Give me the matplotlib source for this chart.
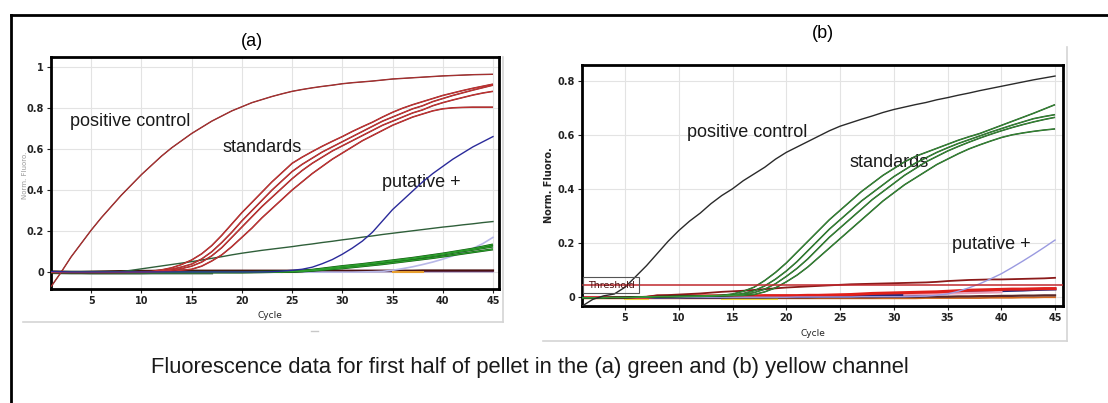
import matplotlib
matplotlib.use("Agg")
import matplotlib.pyplot as plt
from matplotlib import font_manager
from matplotlib.lines import Line2D
from matplotlib.patches import Rectangle

# ---------------------------------------------------------------- data
cycles = list(range(1, 46))

# (a) green channel
a_positive = [-0.07, 0.0, 0.075, 0.14, 0.205, 0.265, 0.32, 0.375, 0.425, 0.475,
              0.52, 0.565, 0.605, 0.64, 0.675, 0.705, 0.735, 0.76, 0.785, 0.805,
              0.825, 0.84, 0.855, 0.868, 0.88, 0.889, 0.897, 0.904, 0.91, 0.917,
              0.922, 0.926, 0.93, 0.935, 0.94, 0.943, 0.946, 0.949, 0.952, 0.955,
              0.957, 0.959, 0.961, 0.962, 0.963]
a_std1 = [0.0, 0.0, 0.0, 0.0, 0.0, 0.0, 0.0, 0.001, 0.002, 0.003,
          0.005, 0.012, 0.022, 0.038, 0.06, 0.09, 0.13, 0.18, 0.235, 0.29,
          0.34, 0.39, 0.44, 0.485, 0.53, 0.56, 0.587, 0.613, 0.637, 0.66,
          0.685, 0.708, 0.73, 0.755, 0.778, 0.798, 0.815, 0.83, 0.845, 0.86,
          0.872, 0.884, 0.895, 0.905, 0.915]
a_std2 = [0.0, 0.0, 0.0, 0.0, 0.0, 0.0, 0.0, 0.0, 0.001, 0.002,
          0.003, 0.008, 0.015, 0.026, 0.04, 0.065, 0.10, 0.145, 0.195, 0.25,
          0.30, 0.35, 0.40, 0.445, 0.49, 0.525, 0.555, 0.585, 0.61, 0.635,
          0.66, 0.685, 0.71, 0.735, 0.755, 0.775, 0.795, 0.81, 0.83, 0.845,
          0.86, 0.873, 0.886, 0.898, 0.91]
a_std3 = [0.0, 0.0, 0.0, 0.0, 0.0, 0.0, 0.0, 0.0, 0.0, 0.001,
          0.002, 0.005, 0.01, 0.018, 0.03, 0.05, 0.08, 0.12, 0.17, 0.22,
          0.27, 0.32, 0.365, 0.41, 0.455, 0.495, 0.53, 0.56, 0.59, 0.615,
          0.64, 0.665, 0.69, 0.715, 0.735, 0.755, 0.775, 0.79, 0.81, 0.825,
          0.838, 0.85, 0.862, 0.872, 0.88]
a_std4 = [0.0, 0.0, 0.0, 0.0, 0.0, 0.0, 0.0, 0.0, 0.0, 0.0,
          0.001, 0.002, 0.005, 0.01, 0.015, 0.03, 0.055, 0.085, 0.125, 0.17,
          0.215, 0.265, 0.31, 0.355, 0.40, 0.44, 0.48, 0.515, 0.55, 0.58,
          0.61, 0.64, 0.665, 0.69, 0.715, 0.735, 0.755, 0.77, 0.785, 0.795,
          0.80, 0.802, 0.803, 0.803, 0.803]
a_putative = [0.004, 0.003, 0.002, 0.002, 0.002, 0.002, 0.002, 0.002, 0.002, 0.002,
              0.002, 0.002, 0.002, 0.002, 0.002, 0.002, 0.002, 0.002, 0.002, 0.002,
              0.002, 0.002, 0.003, 0.006, 0.01, 0.015, 0.025, 0.042, 0.062, 0.088,
              0.118, 0.152, 0.195, 0.25, 0.305, 0.35, 0.395, 0.44, 0.48, 0.515,
              0.55, 0.58, 0.61, 0.635, 0.66]
a_drift = [0.0, -0.003, -0.004, -0.004, -0.003, -0.002, 0.0, 0.004, 0.01, 0.017,
           0.024, 0.031, 0.038, 0.045, 0.052, 0.06, 0.068, 0.076, 0.085, 0.093,
           0.10, 0.107, 0.113, 0.119, 0.125, 0.132, 0.138, 0.145, 0.151, 0.158,
           0.164, 0.171, 0.177, 0.184, 0.19, 0.196, 0.202, 0.208, 0.214, 0.22,
           0.225, 0.231, 0.236, 0.242, 0.247]
a_late1 = [0.002, 0.002, 0.002, 0.002, 0.002, 0.002, 0.002, 0.002, 0.002, 0.002,
           0.002, 0.002, 0.002, 0.002, 0.002, 0.002, 0.002, 0.002, 0.002, 0.002,
           0.002, 0.003, 0.003, 0.004, 0.005, 0.008, 0.012, 0.018, 0.024, 0.03,
           0.035, 0.04, 0.046, 0.052, 0.058, 0.064, 0.07, 0.077, 0.084, 0.091,
           0.099, 0.107, 0.115, 0.125, 0.135]
a_late2 = [0.001, 0.001, 0.001, 0.001, 0.001, 0.001, 0.001, 0.001, 0.001, 0.001,
           0.001, 0.001, 0.001, 0.001, 0.001, 0.001, 0.001, 0.001, 0.001, 0.001,
           0.001, 0.002, 0.002, 0.003, 0.004, 0.006, 0.01, 0.015, 0.02, 0.026,
           0.031, 0.036, 0.042, 0.048, 0.054, 0.06, 0.066, 0.073, 0.08, 0.087,
           0.095, 0.103, 0.11, 0.118, 0.126]
a_late3 = [0.0, 0.0, 0.0, 0.0, 0.0, 0.0, 0.0, 0.0, 0.0, 0.0,
           0.0, 0.0, 0.0, 0.0, 0.0, 0.0, 0.0, 0.0, 0.0, 0.0,
           0.001, 0.001, 0.002, 0.002, 0.003, 0.005, 0.008, 0.012, 0.016, 0.02,
           0.025, 0.03, 0.035, 0.04, 0.046, 0.052, 0.058, 0.064, 0.07, 0.077,
           0.084, 0.091, 0.098, 0.105, 0.112]
a_faint = [0.001, 0.001, 0.001, 0.001, 0.001, 0.001, 0.001, 0.001, 0.001, 0.001,
           0.001, 0.001, 0.001, 0.001, 0.001, 0.001, 0.001, 0.001, 0.001, 0.001,
           0.001, 0.001, 0.001, 0.001, 0.001, 0.001, 0.001, 0.001, 0.001, 0.001,
           0.001, 0.002, 0.003, 0.005, 0.01, 0.018, 0.027, 0.038, 0.05, 0.064,
           0.08, 0.097, 0.116, 0.14, 0.17]
a_neg_maroon = [0.004, 0.003, 0.002, 0.002, 0.003, 0.004, 0.005, 0.006, 0.006, 0.007,
                0.007, 0.008, 0.008, 0.008, 0.008, 0.008, 0.008, 0.008, 0.008, 0.008,
                0.008, 0.008, 0.008, 0.008, 0.008, 0.008, 0.008, 0.008, 0.008, 0.008,
                0.008, 0.008, 0.008, 0.008, 0.008, 0.008, 0.008, 0.009, 0.009, 0.009,
                0.009, 0.009, 0.009, 0.009, 0.009]
a_neg_purple = [0.002, 0.001, 0.0, 0.0, 0.001, 0.002, 0.003, 0.003, 0.004, 0.004,
                0.004, 0.004, 0.004, 0.004, 0.004, 0.004, 0.004, 0.004, 0.004, 0.004,
                0.004, 0.004, 0.004, 0.004, 0.004, 0.004, 0.004, 0.004, 0.004, 0.004,
                0.004, 0.004, 0.004, 0.004, 0.004, 0.004, 0.004, 0.004, 0.004, 0.004,
                0.004, 0.004, 0.004, 0.004, 0.004]
a_neg_grey_cycles = list(range(1, 18))
a_neg_grey = [-0.002, -0.003, -0.004, -0.004, -0.005, -0.005, -0.005, -0.005, -0.005,
              -0.005, -0.004, -0.004, -0.004, -0.004, -0.004, -0.004, -0.004]

# (b) yellow channel
b_positive = [-0.035, -0.01, 0.003, 0.01, 0.035, 0.075, 0.115, 0.16, 0.205, 0.245,
              0.28, 0.31, 0.345, 0.375, 0.40, 0.43, 0.455, 0.48, 0.51, 0.535,
              0.555, 0.575, 0.595, 0.615, 0.632, 0.645, 0.658, 0.67, 0.683, 0.694,
              0.703, 0.712, 0.72, 0.73, 0.738, 0.747, 0.755, 0.764, 0.772, 0.78,
              0.788, 0.796, 0.804, 0.811, 0.818]
b_std1 = [-0.004, -0.004, -0.004, -0.003, -0.003, -0.002, -0.001, 0.0, 0.001, 0.002,
          0.002, 0.003, 0.004, 0.005, 0.01, 0.02, 0.035, 0.06, 0.09, 0.125,
          0.165, 0.205, 0.245, 0.285, 0.32, 0.355, 0.39, 0.42, 0.45, 0.475,
          0.50, 0.52, 0.535, 0.55, 0.565, 0.58, 0.593, 0.605, 0.62, 0.635,
          0.65, 0.665, 0.68, 0.696, 0.712]
b_std2 = [-0.004, -0.004, -0.004, -0.003, -0.003, -0.002, -0.001, 0.0, 0.0, 0.001,
          0.002, 0.002, 0.003, 0.004, 0.006, 0.012, 0.022, 0.04, 0.065, 0.095,
          0.13, 0.17, 0.21, 0.25, 0.285, 0.32, 0.355, 0.385, 0.415, 0.445,
          0.47, 0.495, 0.515, 0.535, 0.552, 0.568, 0.582, 0.596, 0.61, 0.623,
          0.636, 0.648, 0.66, 0.668, 0.675]
b_std3 = [-0.004, -0.004, -0.004, -0.003, -0.003, -0.002, -0.001, 0.0, 0.0, 0.001,
          0.001, 0.002, 0.003, 0.004, 0.005, 0.008, 0.015, 0.028, 0.048, 0.075,
          0.105, 0.14, 0.18, 0.22, 0.255, 0.29, 0.325, 0.36, 0.39, 0.42,
          0.45, 0.475, 0.50, 0.52, 0.54, 0.557, 0.573, 0.588, 0.602, 0.615,
          0.627, 0.638, 0.648, 0.657, 0.665]
b_std4 = [-0.004, -0.004, -0.004, -0.003, -0.003, -0.002, -0.001, 0.0, 0.0, 0.0,
          0.001, 0.001, 0.002, 0.003, 0.004, 0.005, 0.008, 0.018, 0.033, 0.055,
          0.08, 0.11, 0.145, 0.18, 0.215, 0.25, 0.285, 0.32, 0.355, 0.385,
          0.415, 0.44, 0.465, 0.49, 0.51, 0.53, 0.548, 0.563, 0.577, 0.59,
          0.60, 0.607, 0.613, 0.618, 0.622]
b_putative = [-0.003, -0.003, -0.003, -0.003, -0.003, -0.003, -0.003, -0.003, -0.003, -0.003,
              -0.002, -0.002, -0.002, -0.002, -0.002, -0.002, -0.002, -0.002, -0.002, -0.002,
              -0.001, -0.001, -0.001, -0.001, -0.001, -0.001, 0.0, 0.0, 0.0, 0.0,
              0.0, 0.001, 0.002, 0.005, 0.01, 0.02, 0.033, 0.048, 0.066, 0.085,
              0.108, 0.132, 0.157, 0.183, 0.21]
b_neg_darkred = [-0.005, -0.005, -0.004, -0.004, -0.003, -0.002, 0.0, 0.005, 0.006, 0.008,
                 0.01, 0.012, 0.015, 0.018, 0.02, 0.022, 0.025, 0.028, 0.031, 0.034,
                 0.036, 0.038, 0.04, 0.042, 0.044, 0.046, 0.047, 0.048, 0.049, 0.05,
                 0.051, 0.052, 0.053, 0.055, 0.058, 0.06, 0.062, 0.063, 0.064, 0.064,
                 0.065, 0.066, 0.067, 0.068, 0.07]
b_neg_red = [-0.003, -0.003, -0.003, -0.003, -0.003, -0.003, -0.003, 0.002, 0.002, 0.003,
             0.003, 0.003, 0.003, 0.003, 0.003, 0.003, 0.003, 0.004, 0.004, 0.004,
             0.004, 0.005, 0.005, 0.006, 0.007, 0.008, 0.01, 0.012, 0.013, 0.014,
             0.015, 0.016, 0.017, 0.018, 0.02, 0.022, 0.024, 0.025, 0.026, 0.027,
             0.028, 0.028, 0.029, 0.03, 0.03]
b_neg_navy = [-0.003, -0.003, -0.003, -0.003, -0.003, -0.003, -0.003, -0.003, -0.002, -0.002,
              -0.002, -0.002, -0.002, -0.002, -0.001, -0.001, -0.001, -0.001, 0.0, 0.0,
              0.0, 0.001, 0.001, 0.002, 0.002, 0.003, 0.004, 0.005, 0.006, 0.007,
              0.007, 0.008, 0.01, 0.012, 0.015, 0.017, 0.019, 0.02, 0.021, 0.022,
              0.023, 0.024, 0.026, 0.027, 0.028]
b_neg_brown = [-0.003, -0.003, -0.003, -0.003, -0.003, -0.003, -0.003, -0.003, -0.003, -0.003,
               -0.003, -0.003, -0.003, -0.003, -0.003, -0.003, -0.003, -0.003, -0.003, -0.003,
               -0.003, -0.003, -0.002, -0.002, -0.002, -0.002, -0.002, -0.002, -0.001, -0.001,
               -0.001, -0.001, 0.0, 0.0, 0.0, 0.001, 0.001, 0.002, 0.002, 0.003,
               0.003, 0.004, 0.004, 0.005, 0.005]
b_neg_orange = [-0.006, -0.006, -0.006, -0.006, -0.006, -0.006, -0.006, -0.006, -0.006, -0.006,
                -0.006, -0.006, -0.006, -0.006, -0.006, -0.006, -0.006, -0.006, -0.006, -0.006,
                -0.006, -0.006, -0.006, -0.006, -0.006, -0.006, -0.006, -0.006, -0.006, -0.006,
                -0.006, -0.006, -0.005, -0.005, -0.005, -0.005, -0.005, -0.005, -0.004, -0.004,
                -0.004, -0.003, -0.003, -0.002, -0.002]
b_yellow_cycles = [5, 6, 7, 14, 15, 16, 17, 18, 19]
b_yellow = [-0.006, -0.006, -0.006, -0.006, -0.006, -0.006, -0.006, -0.006, -0.006]
b_pink_cycles = [31, 32, 33, 34, 35, 36, 37, 38, 39, 40]
b_pink = [0.008, 0.009, 0.01, 0.011, 0.012, 0.013, 0.014, 0.015, 0.016, 0.017]
b_threshold = 0.045

a_yticks = [0, 0.2, 0.4, 0.6, 0.8, 1]
a_yticklabels = ["0", "0.2", "0.4", "0.6", "0.8", "1"]
b_yticks = [0, 0.2, 0.4, 0.6, 0.8]
b_yticklabels = ["0", "0.2", "0.4", "0.6", "0.8"]
xticks = [5, 10, 15, 20, 25, 30, 35, 40, 45]

caption = "Fluorescence data for first half of pellet in the (a) green and (b) yellow channel"

# ---------------------------------------------------------------- style
available = {f.name for f in font_manager.fontManager.ttflist}
narrow = "Liberation Sans Narrow" if "Liberation Sans Narrow" in available else "DejaVu Sans"
plt.rcParams["font.family"] = ["Liberation Sans", "DejaVu Sans"]

W, H = 1108, 403
fig = plt.figure(figsize=(W / 100, H / 100), dpi=100)
fig.patch.set_facecolor("white")


def px_axes(left, top, right, bottom):
    return fig.add_axes([left / W, 1 - bottom / H, (right - left) / W, (bottom - top) / H])


def fig_line(x0, y0, x1, y1, **kw):
    fig.add_artist(Line2D([x0 / W, x1 / W], [1 - y0 / H, 1 - y1 / H],
                          transform=fig.transFigure, **kw))


def outlined(ax, x, y, inner, outer, lw=0.6, edge=0.6, z=3):
    ax.plot(x, y, color=outer, lw=lw + edge, solid_capstyle="butt", zorder=z)
    ax.plot(x, y, color=inner, lw=lw, solid_capstyle="butt", zorder=z + 0.05)


def style_axes(ax, xlim, ylim, yticks, yticklabels):
    ax.set_xlim(*xlim)
    ax.set_ylim(*ylim)
    ax.set_xticks(xticks)
    ax.set_xticklabels([str(t) for t in xticks])
    ax.set_yticks(yticks)
    ax.set_yticklabels(yticklabels)
    ax.grid(True, color="#e3e3e3", lw=0.8)
    ax.set_axisbelow(True)
    for s in ax.spines.values():
        s.set_linewidth(2.0)
        s.set_color("black")
    ax.tick_params(direction="out", length=3, width=0.8, pad=2, colors="#222222")
    for lab in ax.get_xticklabels() + ax.get_yticklabels():
        lab.set_fontfamily(narrow)
        lab.set_fontsize(7)
        lab.set_fontweight("bold")


# frame around the whole figure
fig_line(11, 15, W, 15, color="black", lw=2.0)
fig_line(11, 15, 11, H, color="black", lw=2.0)

# ---------------------------------------------------------------- panel (a)
axa = px_axes(51, 57, 499, 289)
style_axes(axa, (1.0, 45.6), (-0.081, 1.047), a_yticks, a_yticklabels)

axa.plot(a_neg_grey_cycles, a_neg_grey, color="#6f8a7a", lw=2.0, zorder=2)
axa.plot(cycles, a_neg_purple, color="#7a5aa8", lw=1.2, zorder=2)
axa.plot(cycles, a_neg_maroon, color="#4a1010", lw=1.6, zorder=2.2)
axa.plot([24, 25, 26], [0.001, 0.001, 0.001], color="#e8a030", lw=1.5, zorder=2.3)
axa.plot([35, 36, 37, 38], [0.003, 0.003, 0.003, 0.003], color="#e8a030", lw=1.5, zorder=2.3)
axa.plot(cycles, a_faint, color="#b8b8e8", lw=1.2, zorder=2.5)
for series in (a_late1, a_late2, a_late3):
    outlined(axa, cycles, series, "#2ea02e", "#0f5a0f", lw=0.8, edge=0.8)
axa.plot(cycles, a_drift, color="#2f5f3a", lw=1.0, zorder=3)
axa.plot(cycles, a_putative, color="#2a2a9a", lw=1.0, zorder=3.2)
for series in (a_std1, a_std2, a_std3, a_std4):
    outlined(axa, cycles, series, "#d43a3a", "#8a1a1a", lw=0.55, edge=0.55)
outlined(axa, cycles, a_positive, "#b83a3a", "#7a1a1a", lw=0.5, edge=0.5)

txt = dict(fontsize=13, color="#1a1a1a", ha="center", va="center")
axa.text(8.9, 0.731, "positive control", **txt)
axa.text(22.0, 0.609, "standards", **txt)
axa.text(37.9, 0.439, "putative +", **txt)

fig.text(252 / W, 1 - 41 / H, "(a)", fontsize=13, ha="center", va="center")
fig.text(270 / W, 1 - 315 / H, "Cycle", fontsize=6.5, ha="center", va="center",
         family=narrow, color="#222222")
fig.text(25 / W, 1 - 175 / H, "Norm. Fluoro.", fontsize=5, rotation=90, ha="center",
         va="center", family=narrow, color="#9a9a9a")

# light frame of panel (a)
fig_line(503, 57, 503, 322, color="#d4d4d4", lw=1.2)
fig_line(23, 322, 503, 322, color="#d4d4d4", lw=1.2)
fig_line(311, 331, 318, 331, color="#c8c8c8", lw=1.0)

# ---------------------------------------------------------------- panel (b)
axb = px_axes(582, 65, 1063, 306)
style_axes(axb, (1.0, 45.74), (-0.0345, 0.859), b_yticks, b_yticklabels)

axb.plot(cycles, b_neg_orange, color="#d2691e", lw=1.3, zorder=2)
axb.plot(b_yellow_cycles[:3], b_yellow[:3], color="#f0d840", lw=2.2, zorder=2.1)
axb.plot(b_yellow_cycles[3:], b_yellow[3:], color="#f0d840", lw=2.2, zorder=2.1)
axb.plot(cycles, b_neg_brown, color="#5a2a2a", lw=1.6, zorder=2.2)
axb.plot(cycles, b_neg_navy, color="#2a2a7a", lw=2.0, zorder=2.3)
axb.plot(b_pink_cycles, b_pink, color="#e8a0b8", lw=1.8, zorder=2.35)
axb.plot(cycles, b_neg_red, color="#e0201b", lw=2.2, zorder=2.4)
axb.plot(cycles, b_neg_darkred, color="#8b1a1a", lw=1.3, zorder=2.5)
axb.plot(cycles, b_putative, color="#9a9ae0", lw=1.0, zorder=2.6)
for series in (b_std1, b_std2, b_std3, b_std4):
    outlined(axb, cycles, series, "#3a9a3a", "#1a4a1a", lw=0.55, edge=0.55)
axb.plot(cycles, b_positive, color="#2a2a2a", lw=1.0, zorder=3.3)
axb.axhline(b_threshold, color="#c0282d", lw=1.1, zorder=3.4)
axb.add_patch(Rectangle((1.1, 0.014), 5.2, 0.059, fill=True, facecolor="none",
                        edgecolor="#555555", lw=0.8, zorder=3.5))
axb.text(3.7, 0.043, "Threshold", fontsize=6.8, color="#4a1010", ha="center",
         va="center", family=narrow, zorder=3.6)

axb.text(16.4, 0.607, "positive control", **txt)
axb.text(29.6, 0.496, "standards", **txt)
axb.text(39.06, 0.195, "putative +", **txt)
axb.set_ylabel("Norm. Fluoro.", fontsize=7, family=narrow, fontweight="bold",
               color="#222222", labelpad=3)

fig.text(823 / W, 1 - 33 / H, "(b)", fontsize=13, ha="center", va="center")
fig.text(813 / W, 1 - 334 / H, "Cycle", fontsize=6.5, ha="center", va="center",
         family=narrow, color="#222222")

# light frame of panel (b)
fig_line(1067, 47, 1067, 341, color="#d4d4d4", lw=1.2)
fig_line(543, 341, 1067, 341, color="#d4d4d4", lw=1.2)

# ---------------------------------------------------------------- caption
fig.text(530 / W, 1 - 368 / H, caption, fontsize=15.8, ha="center", va="center",
         color="#1a1a1a")

fig.savefig("out.png", dpi=100, facecolor="white")
